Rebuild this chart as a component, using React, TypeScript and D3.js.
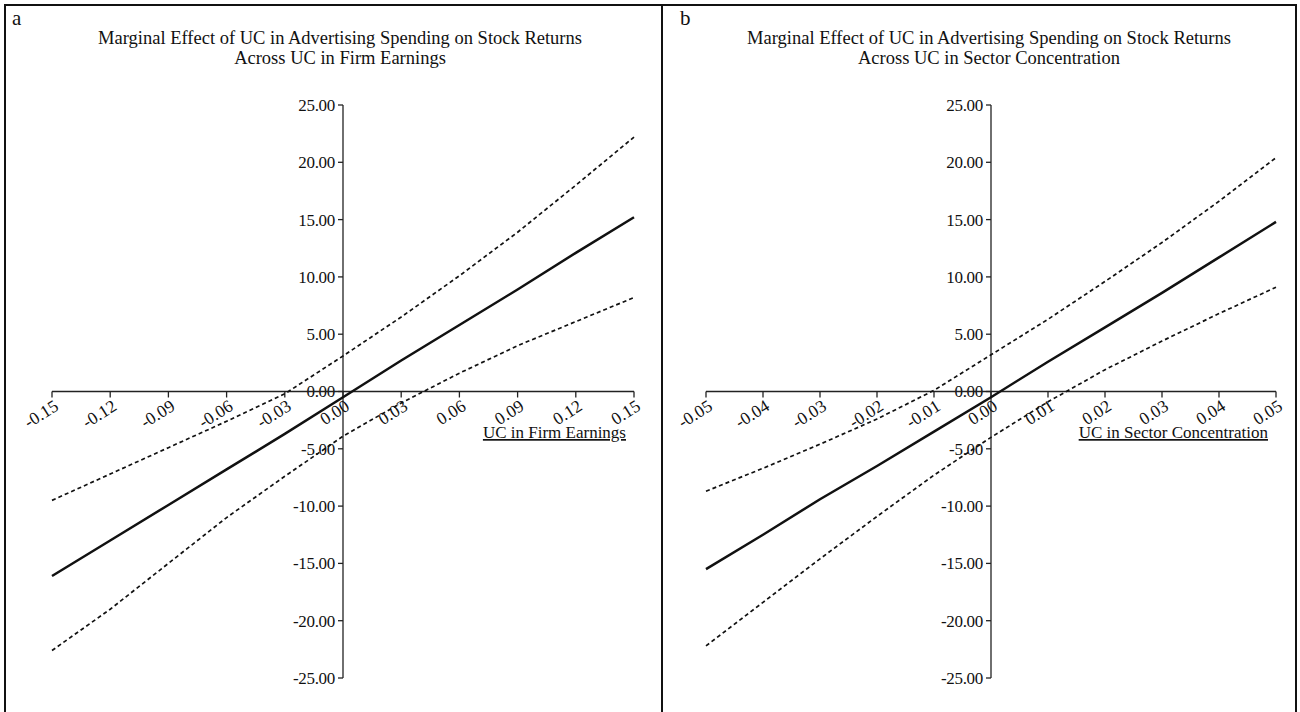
import * as d3 from "d3";

// ---- data ----
const Y_TICKS = [25, 20, 15, 10, 5, 0, -5, -10, -15, -20, -25];

const X_EARN = [-0.15, -0.12, -0.09, -0.06, -0.03, 0, 0.03, 0.06, 0.09, 0.12, 0.15];
const EARN_EFFECT = [-16.1, -13.0, -9.9, -6.8, -3.7, -0.5, 2.7, 5.8, 8.9, 12.1, 15.2];
const EARN_UPPER = [-9.5, -7.2, -4.9, -2.6, -0.2, 3.1, 6.5, 10.1, 13.9, 18.0, 22.2];
const EARN_LOWER = [-22.6, -19.0, -15.0, -11.0, -7.4, -3.9, -1.0, 1.6, 4.0, 6.1, 8.2];

const X_SECT = [-0.05, -0.04, -0.03, -0.02, -0.01, 0, 0.01, 0.02, 0.03, 0.04, 0.05];
const SECT_EFFECT = [-15.5, -12.5, -9.4, -6.5, -3.5, -0.5, 2.6, 5.6, 8.6, 11.7, 14.8];
const SECT_UPPER = [-8.7, -6.7, -4.6, -2.4, 0.1, 3.2, 6.3, 9.6, 13.0, 16.6, 20.4];
const SECT_LOWER = [-22.2, -18.4, -14.6, -10.9, -7.3, -4.0, -0.9, 1.9, 4.4, 6.8, 9.1];

const FONT = "'Liberation Serif', 'Times New Roman', serif";
// plain hyphen for negatives, like the original figure
const fmt = (v: number) => v.toFixed(2);

interface PanelProps {
  letter: string;
  letterX: number;
  titleX: number;
  titleLines: string[];
  xTicks: number[];
  effect: number[];
  upper: number[];
  lower: number[];
  xRange: [number, number];
  axisTitle: string;
}

function Panel(p: PanelProps) {
  const x = d3.scaleLinear().domain([p.xTicks[0], p.xTicks[p.xTicks.length - 1]]).range(p.xRange);
  const y = d3.scaleLinear().domain([-25, 25]).range([678, 105]);
  const x0 = x(0);
  const y0 = y(0);

  const line = (vals: number[]) =>
    d3.line<number>().x((_, i) => x(p.xTicks[i])).y((v) => y(v))(vals) ?? "";

  return (
    <g fontFamily={FONT} fill="#111">
      <text x={p.letterX} y={25} fontSize={21}>{p.letter}</text>
      {p.titleLines.map((t, i) => (
        <text key={i} x={p.titleX} y={44 + i * 20} fontSize={18.5} textAnchor="middle">
          {t}
        </text>
      ))}

      {/* y axis */}
      <line x1={x0} x2={x0} y1={y(25)} y2={y(-25)} stroke="#222" strokeWidth={1.3} />
      {Y_TICKS.map((t) => (
        <g key={t}>
          <line x1={x0 - 5} x2={x0} y1={y(t)} y2={y(t)} stroke="#222" strokeWidth={1.3} />
          <text x={x0 - 8} y={y(t)} dy="0.35em" fontSize={17} textAnchor="end" letterSpacing={-0.3}>
            {fmt(t)}
          </text>
        </g>
      ))}

      {/* x axis */}
      <line x1={p.xRange[0]} x2={p.xRange[1]} y1={y0} y2={y0} stroke="#222" strokeWidth={1.3} />
      {p.xTicks.map((t) => (
        <g key={t}>
          <line x1={x(t)} x2={x(t)} y1={y0} y2={y0 + 6} stroke="#222" strokeWidth={1.3} />
          <text
            transform={`translate(${x(t) + 1},${y0 + 7}) rotate(-32)`}
            dy="0.72em"
            fontSize={17.5}
            textAnchor="end"
          >
            {fmt(t)}
          </text>
        </g>
      ))}
      <text x={p.xRange[1] - 8} y={438} fontSize={17} textAnchor="end" textDecoration="underline">
        {p.axisTitle}
      </text>

      {/* series */}
      <path d={line(p.upper)} fill="none" stroke="#111" strokeWidth={1.7} strokeDasharray="4,3" />
      <path d={line(p.lower)} fill="none" stroke="#111" strokeWidth={1.7} strokeDasharray="4,3" />
      <path d={line(p.effect)} fill="none" stroke="#111" strokeWidth={2.5} />
    </g>
  );
}

export default function App() {
  return (
    <div style={{ position: "absolute", left: 0, top: 0 }}>
      <svg width={1300} height={712} style={{ display: "block", background: "#fff" }}>
        <rect x={5} y={5} width={1291} height={720} fill="none" stroke="#111" strokeWidth={2} />
        <line x1={662} x2={662} y1={5} y2={712} stroke="#111" strokeWidth={2} />
        <Panel
          letter="a"
          letterX={12}
          titleX={340}
          titleLines={[
            "Marginal Effect of UC in Advertising Spending on Stock Returns",
            "Across UC in Firm Earnings",
          ]}
          xTicks={X_EARN}
          effect={EARN_EFFECT}
          upper={EARN_UPPER}
          lower={EARN_LOWER}
          xRange={[52, 634]}
          axisTitle="UC in Firm Earnings"
        />
        <Panel
          letter="b"
          letterX={680}
          titleX={989}
          titleLines={[
            "Marginal Effect of UC in Advertising Spending on Stock Returns",
            "Across UC in Sector Concentration",
          ]}
          xTicks={X_SECT}
          effect={SECT_EFFECT}
          upper={SECT_UPPER}
          lower={SECT_LOWER}
          xRange={[706, 1276]}
          axisTitle="UC in Sector Concentration"
        />
      </svg>
    </div>
  );
}
